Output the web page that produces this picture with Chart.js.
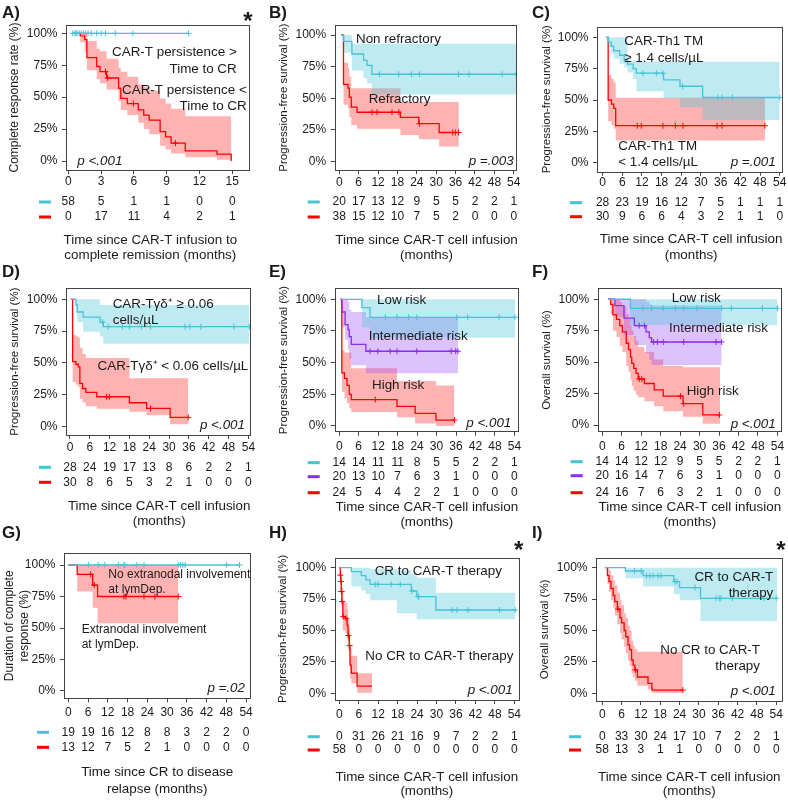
<!DOCTYPE html>
<html>
<head>
<meta charset="utf-8">
<script src="https://cdn.jsdelivr.net/npm/chart.js@4.4.0/dist/chart.umd.min.js"></script>
<style>
  body { margin: 0; background: #fff; width: 788px; height: 802px; position: relative; overflow: hidden; }
  canvas { position: absolute; }
</style>
</head>
<body>
<canvas id="pA"></canvas><canvas id="pB"></canvas><canvas id="pC"></canvas>
<canvas id="pD"></canvas><canvas id="pE"></canvas><canvas id="pF"></canvas>
<canvas id="pG"></canvas><canvas id="pH"></canvas><canvas id="pI"></canvas>
<script>
// ---- data (months, survival %) ----
const ticks15 = [0, 3, 6, 9, 12, 15];
const ticks54 = [0, 6, 12, 18, 24, 30, 36, 42, 48, 54];
const yTicks = [0, 25, 50, 75, 100];

// A) complete response rate
const aBlue = [[0.4, 100], [11.0, 100]];
const aBlueCens = [0.4, 0.6, 0.7, 0.8, 1.0, 1.2, 1.4, 1.6, 1.8, 2.1, 2.6, 3.0, 3.4, 4.3, 5.9, 11.0];
const aRed = [[0.4, 100], [1.1, 98], [1.5, 95], [1.7, 81], [2.6, 74], [2.9, 70], [3.5, 65], [4.6, 57], [4.8, 49], [5.4, 45], [6.4, 40], [6.9, 36], [7.4, 32], [8.4, 23], [8.9, 19], [9.4, 14], [10.7, 8], [13.6, 5.5], [14.9, 0]];
const aRedCI = [[0.4, 100, 100], [1.1, 93, 100], [1.5, 85, 100], [1.7, 71, 94], [2.6, 64, 88], [2.9, 61, 86], [3.5, 56, 80], [4.6, 47, 73], [4.8, 40, 70], [5.4, 36, 66], [6.4, 30, 60], [6.9, 25, 58], [7.4, 21, 55], [8.4, 12, 49], [8.9, 9, 45], [9.4, 6, 41], [10.7, 3, 35], [13.6, 1, 35], [14.9, 0, 35]];
const aRedCens = [3.4, 3.6, 5.95, 9.8];
const aRiskBlue = [58, 5, 1, 1, 0, 0];
const aRiskRed = [0, 17, 11, 4, 2, 1];

// B) refractory
const bBlue = [[0.6, 100], [1.3, 95], [3.9, 85], [7.5, 80], [8.6, 76], [10.1, 69], [54.7, 69]];
const bBlueCI = [[0.6, 100, 100], [1.3, 86, 100], [3.9, 72, 93], [7.5, 66, 93], [8.6, 62, 93], [10.1, 53, 93], [54.7, 53, 93]];
const bBlueCens = [12.4, 18.4, 22.3, 24.8, 36.9, 40.2, 50.4, 54.7];
const bRed = [[0.6, 100], [1.3, 61], [2.7, 58], [3.1, 51], [3.7, 43], [5.5, 39], [18.9, 35], [24.6, 30], [30.9, 23], [37.0, 23]];
const bRedCI = [[0.6, 100, 100], [1.3, 45, 78], [2.7, 42, 74], [3.1, 35, 67], [3.7, 29, 58], [5.5, 26, 58], [18.9, 21, 47], [24.6, 17.6, 47], [30.9, 12, 47], [37.0, 12, 47]];
const bRedCens = [10.1, 11.7, 16.3, 18.4, 24.8, 35.1, 35.9, 36.9];
const bRiskBlue = [20, 17, 13, 12, 9, 5, 5, 2, 2, 1];
const bRiskRed = [38, 15, 12, 10, 7, 5, 2, 0, 0, 0];

// C) CAR-Th1 TM
const cBlue = [[1.0, 100], [1.8, 96.4], [2.6, 92.9], [3.4, 89.3], [5.2, 85.7], [6.6, 82.1], [7.6, 78.6], [9.3, 75], [10.3, 71.4], [18.6, 66], [23.6, 61], [30.5, 52], [54.0, 52]];
const cBlueCI = [[1.0, 100, 100], [1.8, 92, 100], [2.6, 87, 100], [3.4, 83, 100], [5.2, 79, 100], [6.6, 76, 100], [7.6, 72, 80.5], [9.3, 67, 80.5], [10.3, 57, 80.5], [18.6, 51.5, 80.5], [23.6, 44, 80.5], [30.5, 34, 80.5], [54.0, 34, 80.5]];
const cBlueCens = [12.3, 16.4, 18.4, 24.4, 35.1, 36.4, 39.6, 54.0];
const cRed = [[1.0, 100], [1.7, 50], [2.7, 46.7], [3.4, 43.3], [4.0, 29.5], [49.5, 29.5]];
const cRedCI = [[1.0, 100, 100], [1.7, 33, 70], [2.7, 30, 67], [3.4, 27, 64], [4.0, 17.6, 51.8], [49.5, 17.6, 51.8]];
const cRedCens = [10.6, 11.8, 18.4, 22.2, 24.5, 34.9, 36.4, 49.5];
const cRiskBlue = [28, 23, 19, 16, 12, 7, 5, 1, 1, 1];
const cRiskRed = [30, 9, 6, 6, 4, 3, 2, 1, 1, 0];

// D) CAR-Tγδ+
const dBlue = [[0.3, 100], [1.8, 95.5], [2.2, 90], [4.0, 86], [9.1, 82], [10.1, 78.5], [54.3, 78.5]];
const dBlueCI = [[0.3, 100, 100], [1.8, 90, 100], [2.2, 82, 100], [4.0, 74.6, 100], [9.1, 70.7, 95.5], [10.1, 65, 95.5], [54.3, 65, 95.5]];
const dBlueCens = [9.9, 11.6, 15.9, 18.0, 21.7, 24.4, 34.8, 36.3, 39.6, 49.6, 54.3];
const dRed = [[0.3, 100], [0.8, 51], [1.8, 49], [2.5, 47], [3.0, 34], [3.8, 30], [4.8, 27], [8.1, 23.5], [18.0, 18.8], [23.2, 14.4], [30.3, 7.3], [35.8, 7.3]];
const dRedCI = [[0.3, 100, 100], [0.8, 35, 72], [1.8, 33, 71], [2.5, 31, 70], [3.0, 22, 62], [3.8, 19, 57], [4.8, 16, 54], [8.1, 14, 54], [18.0, 11.8, 38], [23.2, 9, 38], [30.3, 2, 38], [35.8, 2, 38]];
const dRedCens = [11.1, 11.9, 24.4, 35.8];
const dRiskBlue = [28, 24, 19, 17, 13, 8, 6, 2, 2, 1];
const dRiskRed = [30, 8, 6, 5, 3, 2, 1, 0, 0, 0];

// E) risk groups, PFS
const eBlue = [[0.3, 100], [7.0, 93.4], [9.5, 85.8], [54.2, 85.8]];
const eBlueCI = [[0.3, 100, 100], [7.0, 78, 100], [9.5, 69.7, 100], [54.2, 69.7, 100]];
const eBlueCens = [14.2, 17.8, 21.4, 23.9, 36.2, 39.6, 49.3, 54.2];
const ePurple = [[0.3, 100], [0.8, 90], [1.8, 80], [2.7, 76], [3.1, 70.5], [3.7, 64.5], [8.2, 59], [36.6, 59]];
const ePurpleCI = [[0.3, 100, 100], [0.8, 78, 100], [1.8, 68, 100], [2.7, 60, 98], [3.1, 53, 92], [3.7, 48, 90], [8.2, 41.6, 86], [36.6, 41.6, 86]];
const ePurpleCens = [9.5, 11.9, 15.7, 17.8, 23.9, 34.5, 35.9, 36.6];
const eRed = [[0.3, 100], [0.8, 42], [1.6, 37.6], [2.4, 32], [3.1, 25], [3.7, 20.8], [17.8, 15.5], [23.4, 10], [29.8, 4.7], [35.5, 4.7]];
const eRedCI = [[0.3, 100, 100], [0.8, 27, 60], [1.6, 22, 58], [2.4, 18, 58], [3.1, 14, 58], [3.7, 11, 45.5], [17.8, 7, 35.5], [23.4, 2, 35.5], [29.8, 0, 32], [35.5, 0, 32]];
const eRedCens = [11.1, 35.5];
const eRiskBlue = [14, 14, 11, 11, 8, 5, 5, 2, 2, 1];
const eRiskPurple = [20, 13, 10, 7, 6, 3, 1, 0, 0, 0];
const eRiskRed = [24, 5, 4, 4, 2, 2, 1, 0, 0, 0];

// F) risk groups, OS
const fBlue = [[1.8, 100], [8.7, 92.8], [54.0, 92.8]];
const fBlueCI = [[1.8, 100, 100], [8.7, 79.6, 100], [54.0, 79.6, 100]];
const fBlueCens = [12.5, 15.2, 18.8, 22.6, 25.1, 29.2, 36.8, 39.8, 49.4, 54.0];
const fPurple = [[1.8, 100], [3.9, 95], [6.7, 85], [9.9, 79], [13.5, 74], [14.5, 69.5], [15.2, 66], [36.8, 66]];
const fPurpleCI = [[1.8, 100, 100], [3.9, 86, 100], [6.7, 71.6, 100], [9.9, 63.7, 100], [13.5, 57, 98], [14.5, 51.7, 96], [15.2, 47.7, 95], [36.8, 47.7, 95]];
const fPurpleCens = [11.4, 13.0, 15.8, 17.0, 18.8, 25.1, 35.1, 36.8];
const fRed = [[1.8, 100], [2.6, 96], [3.3, 87.5], [4.4, 84], [5.4, 79], [6.2, 74], [7.4, 65], [8.1, 60], [8.7, 54], [9.1, 49], [9.7, 45], [10.4, 41], [11.1, 36.6], [13.0, 33], [16.0, 28], [18.8, 23], [24.9, 17], [31.0, 8], [36.3, 8]];
const fRedCI = [[1.8, 100, 100], [2.6, 88, 100], [3.3, 75, 100], [4.4, 70, 100], [5.4, 63, 98], [6.2, 58, 94], [7.4, 47, 88], [8.1, 42, 84], [8.7, 36, 79], [9.1, 31, 75], [9.7, 27, 71], [10.4, 24, 67], [11.1, 22, 62], [13.0, 19, 58], [16.0, 15, 52], [18.8, 11, 47], [24.9, 6.6, 46], [31.0, 1, 46], [36.3, 1, 46]];
const fRedCens = [11.4, 12.2, 24.1, 25.1, 36.1];
const fRiskBlue = [14, 14, 12, 12, 9, 5, 5, 2, 2, 1];
const fRiskPurple = [20, 16, 14, 7, 6, 3, 1, 0, 0, 0];
const fRiskRed = [24, 16, 7, 6, 3, 2, 1, 0, 0, 0];

// G) duration of CR
const gBlue = [[0, 100], [52.2, 100]];
const gBlueCens = [6.1, 9.1, 11.1, 15.2, 16.9, 17.2, 20.8, 23.0, 33.4, 34.1, 34.8, 35.5, 48.1, 52.0];
const gRed = [[0, 100], [2.7, 92.6], [7.4, 84], [8.9, 75], [33.4, 75]];
const gRedCI = [[0, 100, 100], [2.7, 79, 100], [7.4, 66, 100], [8.9, 53.7, 100], [33.4, 53.7, 100]];
const gRedCens = [6.8, 7.9, 16.9, 17.5, 23.0, 26.3, 33.4];
const gRiskBlue = [19, 19, 16, 12, 8, 8, 3, 2, 2, 0];
const gRiskRed = [13, 12, 7, 5, 2, 1, 0, 0, 0, 0];

// H) CR vs no CR, PFS
const hBlue = [[0.3, 100], [3.7, 96.8], [6.8, 93.6], [8.2, 90.2], [9.5, 86.7], [22.2, 81.4], [23.9, 77], [29.8, 66.3], [54.3, 66.3]];
const hBlueCI = [[0.3, 100, 100], [3.7, 85, 100], [6.8, 82, 100], [8.2, 79, 100], [9.5, 74, 99], [17.8, 63.7, 98], [22.2, 63.7, 95], [23.9, 59, 92], [29.8, 59, 80], [54.3, 59, 80]];
const hBlueCens = [11.1, 11.9, 16.0, 18.8, 22.4, 24.3, 24.5, 34.8, 36.3, 39.7, 49.4, 54.3];
const hRed = [[0, 100], [0.3, 94], [0.5, 89], [0.6, 81], [0.8, 73], [1.1, 61], [1.9, 59.7], [2.4, 54], [2.7, 46], [3.1, 38], [3.3, 22.5], [3.7, 16], [5.5, 5.8], [10.1, 5.8]];
const hRedCI = [[0, 100, 100], [0.3, 88, 100], [0.5, 81, 97], [0.6, 72, 90], [0.8, 63, 84], [1.1, 50, 73], [1.9, 48, 72], [2.4, 42, 67], [2.7, 34, 60], [3.1, 26, 52], [3.3, 12, 36], [3.7, 8, 30], [5.5, 0.5, 16], [10.1, 0.5, 16]];
const hRedCens = [0.35, 0.55, 0.65, 0.7, 0.85, 1.2, 2.0, 2.8, 3.2];
const hRiskBlue = [0, 31, 26, 21, 16, 9, 7, 2, 2, 1];
const hRiskRed = [58, 0, 0, 0, 0, 0, 0, 0, 0, 0];

// I) CR vs no CR, OS
const iBlue = [[0.8, 100], [7.2, 97.3], [12.7, 93.6], [22.2, 88.9], [24.0, 84.1], [30.5, 75.6], [54.3, 75.6]];
const iBlueCI = [[0.8, 100, 100], [7.2, 91.5, 100], [12.7, 85, 100], [22.2, 79, 100], [24.0, 74, 100], [30.5, 57.6, 100], [54.3, 57.6, 100]];
const iBlueCens = [10.0, 12.1, 13.7, 14.8, 15.8, 17.3, 18.3, 22.6, 23.2, 28.8, 35.3, 36.3, 36.8, 40.4, 50.2, 54.0];
const iRed = [[1.0, 100], [1.6, 93.6], [2.1, 89], [2.7, 83.5], [3.4, 78], [3.9, 73], [4.7, 67], [5.5, 60], [6.0, 56], [6.8, 50], [7.3, 45], [8.0, 38.5], [8.5, 34.7], [9.1, 26.5], [9.6, 22.5], [10.1, 18.6], [10.9, 13], [14.2, 8], [15.4, 2.6], [25.0, 2.6]];
const iRedCI = [[1.0, 100, 100], [1.6, 87, 100], [2.1, 81, 98], [2.7, 74, 94], [3.4, 68, 90], [3.9, 62, 86], [4.7, 55, 80], [5.5, 48, 74], [6.0, 43, 70], [6.8, 37, 64], [7.3, 32, 60], [8.0, 26, 54], [8.5, 22, 50], [9.1, 16, 42], [9.6, 13, 38], [10.1, 10, 35], [10.9, 6, 33], [14.2, 3, 33], [15.4, 0.5, 33], [25.0, 0.5, 33]];
const iRedCens = [4.9, 10.3, 25.0];
const iRiskBlue = [0, 33, 30, 24, 17, 10, 7, 2, 2, 1];
const iRiskRed = [58, 13, 3, 1, 1, 0, 0, 0, 0, 0];

// ---- styling ----
const FONT = '"Liberation Sans", Arial, Helvetica, sans-serif';
const TEXT = '#1a1a1a';
const AXIS = '#444';
const CYAN = 'rgb(70,195,215)', CYAN_FILL = 'rgba(70,195,215,0.35)';
const RED = 'rgb(255,0,0)', RED_FILL = 'rgba(255,0,0,0.3)';
const PURPLE = 'rgb(140,45,235)', PURPLE_FILL = 'rgba(150,70,250,0.33)';

Chart.defaults.font.family = FONT;
Chart.defaults.color = TEXT;

const blue = (curve, ci, cens, risk) => ({ curve, ci, cens, risk, color: CYAN, fill: CYAN_FILL });
const red = (curve, ci, cens, risk) => ({ curve, ci, cens, risk, color: RED, fill: RED_FILL });
const purple = (curve, ci, cens, risk) => ({ curve, ci, cens, risk, color: PURPLE, fill: PURPLE_FILL });

const PFS = 'Progression-free survival (%)';
const OS = 'Overall survival (%)';
const XT = ['Time since CAR-T cell infusion', '(months)'];

const panels = [
  { id: 'pA', x: 0, y: 0, w: 262, h: 265, label: 'A)', labelPos: [2, 13], star: [248, 17],
    box: { l: 66, r: 250, t: 25, b: 170 }, xr: [-0.21, 16.62], yr: [-7, 106.5], xTicks: ticks15, tickPad: 0.8,
    yTitle: 'Complete response rate (%)', yTitleSize: 12, yTitlePad: 7.8,
    xTitle: ['Time since CAR-T infusion to', 'complete remission (months)'], xTitleY: [240, 255], riskY: [202, 217],
    groups: [blue(aBlue, null, aBlueCens, aRiskBlue), red(aRed, aRedCI, aRedCens, aRiskRed)],
    notes: [['CAR-T persistence >', 236.7, 52.3, 'right'], ['Time to CR', 236.7, 69, 'right'],
            ['CAR-T persistence <', 246.7, 90, 'right'], ['Time to CR', 246.7, 106, 'right']],
    p: ['p <.001', 77.3, 161.7, 'left'] },
  { id: 'pB', x: 262, y: 0, w: 263, h: 265, label: 'B)', labelPos: [7, 13],
    box: { l: 72.7, r: 255, t: 25, b: 170 }, xr: [-1.42, 55.0], yr: [-6.6, 107.9], xTicks: ticks54, tickPad: 1.8,
    yTitle: PFS, yTitleSize: 11.5, yTitlePad: 14.8, xTitle: XT, xTitleY: [240, 255], riskY: [202, 217],
    groups: [blue(bBlue, bBlueCI, bBlueCens, bRiskBlue), red(bRed, bRedCI, bRedCens, bRiskRed)],
    notes: [['Non refractory', 94, 39, 'left'], ['Refractory', 106.7, 99, 'left']],
    p: ['p =.003', 251.7, 161.7, 'right'] },
  { id: 'pC', x: 525, y: 0, w: 263, h: 265, label: 'C)', labelPos: [7, 13],
    box: { l: 72, r: 259, t: 26.7, b: 171.7 }, xr: [-1.7, 55.0], yr: [-7.2, 108.5], xTicks: ticks54, tickPad: 0,
    yTitle: PFS, yTitleSize: 11.5, yTitlePad: 14.8, xTitle: XT, xTitleY: [239.3, 255], riskY: [202.7, 216.7],
    groups: [blue(cBlue, cBlueCI, cBlueCens, cRiskBlue), red(cRed, cRedCI, cRedCens, cRiskRed)],
    notes: [['CAR-Th1 TM', 99.3, 41, 'left'], ['≥ 1.4 cells/µL', 99.3, 58.3, 'left'],
            ['CAR-Th1 TM', 93.3, 146, 'left'], ['< 1.4 cells/µL', 93.3, 162.7, 'left']],
    p: ['p =.001', 250.7, 162.7, 'right'] },
  { id: 'pD', x: 0, y: 262, w: 262, h: 270, label: 'D)', labelPos: [2, 10.5],
    box: { l: 66, r: 250.7, t: 26.3, b: 173 }, xr: [-1.2, 54.7], yr: [-6.5, 108.6], xTicks: ticks54, tickPad: 1.5,
    yTitle: PFS, yTitleSize: 11.5, yTitlePad: 8.1, xTitle: XT, xTitleY: [244.7, 259.7], riskY: [205.3, 220.3],
    groups: [blue(dBlue, dBlueCI, dBlueCens, dRiskBlue), red(dRed, dRedCI, dRedCens, dRiskRed)],
    notes: [['CAR-Tγδ⁺ ≥ 0.06', 112.7, 42, 'left'], ['cells/µL', 112.7, 58, 'left'],
            ['CAR-Tγδ⁺ < 0.06 cells/µL', 248.3, 104.7, 'right']],
    p: ['p <.001', 245, 163, 'right'] },
  { id: 'pE', x: 262, y: 262, w: 263, h: 270, label: 'E)', labelPos: [7, 10.5],
    box: { l: 72.7, r: 256.7, t: 26.3, b: 169.7 }, xr: [-1.4, 55.2], yr: [-4.5, 108.7], xTicks: ticks54, tickPad: 3.8,
    yTitle: PFS, yTitleSize: 11.5, yTitlePad: 14.8, xTitle: XT, xTitleY: [245.7, 260.3], riskY: [200.7, 214.7, 230.7],
    groups: [blue(eBlue, eBlueCI, eBlueCens, eRiskBlue), purple(ePurple, ePurpleCI, ePurpleCens, eRiskPurple), red(eRed, eRedCI, eRedCens, eRiskRed)],
    notes: [['Low risk', 115, 38, 'left'], ['Intermediate risk', 106.7, 74, 'left'], ['High risk', 110, 123, 'left']],
    p: ['p <.001', 249.3, 161.3, 'right'] },
  { id: 'pF', x: 525, y: 262, w: 263, h: 270, label: 'F)', labelPos: [7, 10.5],
    box: { l: 72.7, r: 259, t: 26.3, b: 169.7 }, xr: [-1.4, 55.2], yr: [-5.3, 108.7], xTicks: ticks54, tickPad: 3.8,
    yTitle: OS, yTitleSize: 11.5, yTitlePad: 14.8, xTitle: XT, xTitleY: [245.7, 260.3], riskY: [199.7, 213.7, 230.7],
    groups: [blue(fBlue, fBlueCI, fBlueCens, fRiskBlue), purple(fPurple, fPurpleCI, fPurpleCens, fRiskPurple), red(fRed, fRedCI, fRedCens, fRiskRed)],
    notes: [['Low risk', 146.7, 36.3, 'left'], ['Intermediate risk', 144, 66.3, 'left'], ['High risk', 161.7, 129.7, 'left']],
    p: ['p <.001', 250.7, 162.3, 'right'] },
  { id: 'pG', x: 0, y: 522, w: 262, h: 280, label: 'G)', labelPos: [2, 11],
    box: { l: 64, r: 250.7, t: 31.3, b: 176.3 }, xr: [-1.3, 55.4], yr: [-5.8, 109.3], xTicks: ticks54, tickPad: 2.8,
    yTitle: ['Duration of complete', 'response (%)'], yTitleSize: 12, yTitleLH: 1.3, yTitlePad: 1.5,
    xTitle: ['Time since CR to disease', 'relapse (months)'], xTitleY: [250.3, 267], riskY: [210.3, 225.3],
    groups: [blue(gBlue, null, gBlueCens, gRiskBlue), red(gRed, gRedCI, gRedCens, gRiskRed)],
    noteSize: 12,
    notes: [['No extranodal involvement', 108.3, 53, 'left'], ['at lymDep.', 108.3, 68, 'left'],
            ['Extranodal involvement', 81.7, 108, 'left'], ['at lymDep.', 81.7, 123, 'left']],
    p: ['p =.02', 245, 166.3, 'right'] },
  { id: 'pH', x: 262, y: 522, w: 263, h: 280, label: 'H)', labelPos: [7, 11], star: [256.7, 24.7],
    box: { l: 72.7, r: 258, t: 35.7, b: 178 }, xr: [-1.42, 55.75], yr: [-5.3, 107.9], xTicks: ticks54, tickPad: 3.8,
    yTitle: PFS, yTitleSize: 11.5, yTitlePad: 13.8, xTitle: XT, xTitleY: [255.7, 269.7], riskY: [214.7, 228],
    groups: [blue(hBlue, hBlueCI, hBlueCens, hRiskBlue), red(hRed, hRedCI, hRedCens, hRiskRed)],
    notes: [['CR to CAR-T therapy', 112.7, 49.7, 'left'], ['No CR to CAR-T therapy', 103.3, 134.7, 'left']],
    p: ['p <.001', 250.7, 168, 'right'] },
  { id: 'pI', x: 525, y: 522, w: 263, h: 280, label: 'I)', labelPos: [7, 11], star: [256, 24.7],
    box: { l: 71, r: 259, t: 35.7, b: 179 }, xr: [-1.94, 56.1], yr: [-6.1, 107.9], xTicks: ticks54, tickPad: 2.8,
    yTitle: OS, yTitleSize: 11.5, yTitlePad: 13.1, xTitle: XT, xTitleY: [255.7, 269.7], riskY: [214.7, 228],
    groups: [blue(iBlue, iBlueCI, iBlueCens, iRiskBlue), red(iRed, iRedCI, iRedCens, iRiskRed)],
    notes: [['CR to CAR-T', 248.3, 55.3, 'right'], ['therapy', 248.3, 71.3, 'right'],
            ['No CR to CAR-T', 235, 128, 'right'], ['therapy', 235, 144, 'right']],
    p: ['p <.001', 250.7, 169.7, 'right'] }
];

// step-function lookup: survival at time t
function valueAt(curve, t) {
  let v = curve[0][1];
  for (const [x, y] of curve) { if (x <= t) v = y; }
  return v;
}

function buildPanel(p) {
  const cv = document.getElementById(p.id);
  cv.width = p.w; cv.height = p.h;
  cv.style.left = p.x + 'px'; cv.style.top = p.y + 'px';

  const datasets = [];
  p.groups.forEach(g => {
    if (g.ci) {
      datasets.push({ data: g.ci.map(r => ({ x: r[0], y: r[2] })), stepped: true, borderWidth: 0,
        borderColor: 'transparent', pointRadius: 0, fill: false, order: 3 });
      datasets.push({ data: g.ci.map(r => ({ x: r[0], y: r[1] })), stepped: true, borderWidth: 0,
        borderColor: 'transparent', pointRadius: 0, fill: '-1', backgroundColor: g.fill, order: 3 });
    }
    datasets.push({ data: g.curve.map(r => ({ x: r[0], y: r[1] })), stepped: true, borderColor: g.color,
      borderWidth: 1.3, pointRadius: 0, fill: false, order: 2 });
    datasets.push({ data: g.cens.map(t => ({ x: t, y: valueAt(g.curve, t) })), showLine: false,
      pointStyle: 'cross', pointRadius: 3, borderColor: g.color, borderWidth: 1, order: 1 });
  });

  const decor = {
    id: 'decor',
    afterDraw(chart) {
      const { ctx, chartArea: a, scales: { x } } = chart;
      ctx.save();
      // plot frame
      ctx.strokeStyle = AXIS; ctx.lineWidth = 1;
      ctx.strokeRect(Math.round(a.left) + 0.5, Math.round(a.top) + 0.5,
        Math.round(a.right - a.left) - 1, Math.round(a.bottom - a.top));
      ctx.fillStyle = TEXT;
      ctx.textBaseline = 'middle';
      // curve labels
      ctx.font = `${p.noteSize || 13.4}px ${FONT}`;
      p.notes.forEach(([t, nx, ny, al]) => { ctx.textAlign = al; ctx.fillText(t, nx, ny); });
      // p-value
      ctx.font = `italic 13.4px ${FONT}`;
      ctx.textAlign = p.p[3];
      ctx.fillText(p.p[0], p.p[1], p.p[2]);
      // numbers at risk
      ctx.font = `12px ${FONT}`;
      ctx.textAlign = 'center';
      p.groups.forEach((g, i) => {
        const ry = p.riskY[i];
        g.risk.forEach((n, k) => ctx.fillText(String(n), x.getPixelForValue(p.xTicks[k]), ry));
        ctx.strokeStyle = g.color; ctx.lineWidth = 3;
        ctx.beginPath(); ctx.moveTo(a.left - 27, ry); ctx.lineTo(a.left - 15, ry); ctx.stroke();
      });
      // x title
      const cx = (x.getPixelForValue(p.xTicks[0]) + x.getPixelForValue(p.xTicks[p.xTicks.length - 1])) / 2;
      ctx.font = `13.4px ${FONT}`;
      p.xTitle.forEach((t, i) => ctx.fillText(t, cx, p.xTitleY[i]));
      // panel label + significance star
      ctx.font = `bold 17px ${FONT}`;
      ctx.textAlign = 'left';
      ctx.fillText(p.label, p.labelPos[0], p.labelPos[1]);
      if (p.star) {
        ctx.font = `bold 24px ${FONT}`;
        ctx.textAlign = 'center';
        ctx.fillText('*', p.star[0], p.star[1] + 5);
      }
      ctx.restore();
    }
  };

  const tickGrid = { display: true, drawOnChartArea: false, drawTicks: true, tickLength: 4, color: AXIS };

  return new Chart(cv.getContext('2d'), {
    type: 'line',
    data: { datasets },
    options: {
      responsive: false,
      animation: false,
      devicePixelRatio: 1,
      layout: { padding: { left: 0, top: p.box.t, right: p.w - p.box.r, bottom: 0 } },
      plugins: { legend: { display: false }, tooltip: { enabled: false } },
      scales: {
        x: {
          type: 'linear', min: p.xr[0], max: p.xr[1],
          afterBuildTicks: s => { s.ticks = p.xTicks.map(v => ({ value: v })); },
          afterFit: s => { s.height = p.h - p.box.b; },
          grid: tickGrid,
          border: { display: false },
          ticks: { padding: p.tickPad, color: TEXT, font: { size: 12 }, maxRotation: 0, autoSkip: false }
        },
        y: {
          type: 'linear', min: p.yr[0], max: p.yr[1],
          afterBuildTicks: s => { s.ticks = yTicks.map(v => ({ value: v })); },
          afterFit: s => { s.width = p.box.l; },
          grid: tickGrid,
          border: { display: false },
          ticks: { padding: 4.5, color: TEXT, font: { size: 12 }, callback: v => v + '%' },
          title: { display: true, text: p.yTitle, color: TEXT,
            font: { size: p.yTitleSize, lineHeight: p.yTitleLH || 1.2 },
            padding: { top: p.yTitlePad, bottom: 0 } }
        }
      }
    },
    plugins: [decor]
  });
}

panels.forEach(buildPanel);
</script>
</body>
</html>
